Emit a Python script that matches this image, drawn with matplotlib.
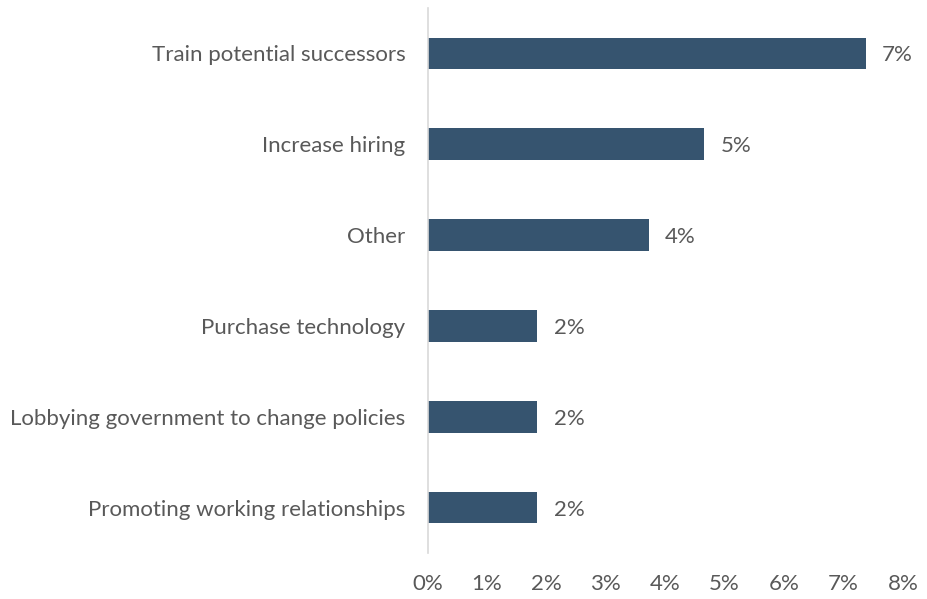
import matplotlib
matplotlib.use("Agg")
import matplotlib.pyplot as plt
from matplotlib.ticker import FuncFormatter

# Share of respondents by action taken
categories = [
    "Train potential successors",
    "Increase hiring",
    "Other",
    "Purchase technology",
    "Lobbying government to change policies",
    "Promoting working relationships",
]
values = [7.37, 4.65, 3.72, 1.84, 1.84, 1.84]
x_ticks = [0, 1, 2, 3, 4, 5, 6, 7, 8]

bar_color = "#36546F"
text_color = "#595959"

plt.rcParams['font.family'] = ['Lato', 'DejaVu Sans']

fig = plt.figure(figsize=(9.28, 5.99), dpi=100)
ax = fig.add_axes([0.4607, 0.0768, 0.973 - 0.4607, 0.9866 - 0.0768])

pos = list(range(len(categories)))
ax.barh(pos, values, height=0.35, color=bar_color)

for p, v in zip(pos, values):
    ax.text(v + 0.28, p, f"{round(v):.0f}%", va="center_baseline", ha="left",
            fontsize=16, color=text_color)

ax.set_yticks(pos)
ax.set_yticklabels(categories, fontsize=16, color=text_color)
ax.set_ylim(len(categories) - 0.5, -0.5)
ax.set_xlim(0, 8)
ax.set_xticks(x_ticks)
ax.xaxis.set_major_formatter(FuncFormatter(lambda v, _: f"{v:.0f}%"))
ax.tick_params(axis="x", labelsize=16, labelcolor=text_color, length=0, pad=15)
ax.tick_params(axis="y", length=0, pad=16)

for side in ["top", "right", "bottom"]:
    ax.spines[side].set_visible(False)
ax.spines["left"].set_color("#D9D9D9")
ax.spines["left"].set_linewidth(1.2)

fig.savefig("out.png", dpi=100)
